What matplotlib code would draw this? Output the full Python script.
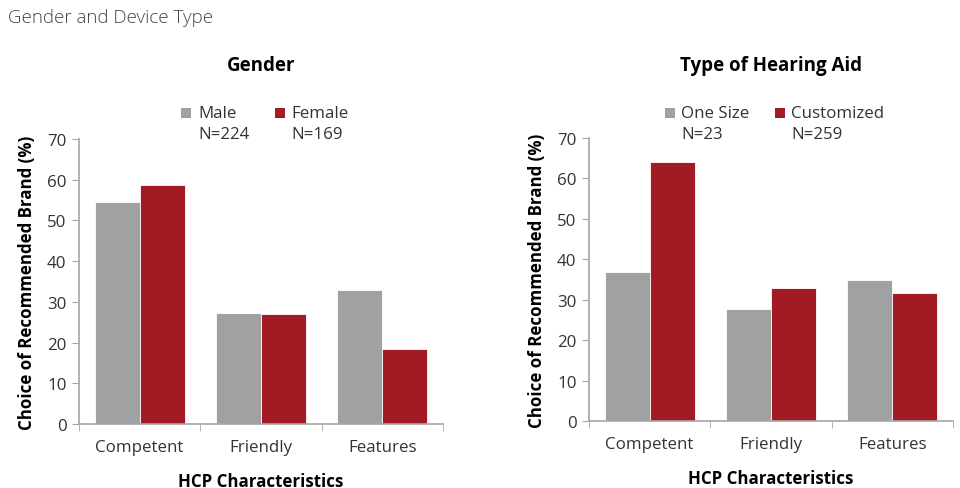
import matplotlib
matplotlib.use("Agg")
import matplotlib.pyplot as plt
import numpy as np
from matplotlib.patches import Rectangle

plt.rcParams['font.family'] = ['Open Sans', 'DejaVu Sans']

categories = ["Competent", "Friendly", "Features"]
gender_labels = ["Male", "Female"]
gender_n = ["N=224", "N=169"]
male = [54.5, 27.3, 32.8]
female = [58.8, 26.9, 18.4]
device_labels = ["One Size", "Customized"]
device_n = ["N=23", "N=259"]
one_size = [36.8, 27.8, 35.0]
customized = [64.1, 33.0, 31.7]
yticks = [0, 10, 20, 30, 40, 50, 60, 70]

GRAY = "#a0a1a3"
RED = "#a21a23"
AX = "#a6a6a6"
TXT = "#333333"
W, H = 960, 489

fig = plt.figure(figsize=(9.6, 4.89), dpi=100)
fig.text(8/W, 1-18/H, "Gender and Device Type", fontsize=13.5, color="#444444",
         va="center", ha="left", fontweight="light")

def panel(rect, title, s1, s2, labels, ns, leg_x):
    ax = fig.add_axes(rect)
    x = np.arange(len(categories))
    w = 0.37
    ax.bar(x - w/2, s1, w, color=GRAY, edgecolor="white", linewidth=0.6)
    ax.bar(x + w/2, s2, w, color=RED, edgecolor="white", linewidth=0.6)
    ax.set_xlim(-0.5, 2.5)
    ax.set_ylim(0, 70)
    ax.set_yticks(yticks)
    ax.set_xticks(x)
    ax.set_xticklabels(categories)
    ax.set_xticks([-0.5, 0.5, 1.5, 2.5], minor=True)
    ax.tick_params(axis='x', which='major', length=0, pad=11, labelsize=12.2, colors=TXT)
    ax.tick_params(axis='x', which='minor', length=5, direction='out', color=AX)
    ax.tick_params(axis='y', length=5, color=AX, labelsize=12.2, labelcolor=TXT, pad=4)
    for s in ['top', 'right']:
        ax.spines[s].set_visible(False)
    for s in ['left', 'bottom']:
        ax.spines[s].set_color(AX)
        ax.spines[s].set_linewidth(1.2)
    ax.set_xlabel("HCP Characteristics", fontsize=12.2, fontweight="bold", color="black", labelpad=12)
    ax.set_ylabel("Choice of Recommended Brand (%)", fontsize=12.2, fontweight="bold", color="black", labelpad=8)
    # legend drawn manually
    for (sx, tx), lab, n, col in zip(leg_x, labels, ns, [GRAY, RED]):
        fig.patches.append(Rectangle((sx/W, 1-119/H), 10/W, 10/H, transform=fig.transFigure,
                                     facecolor=col, edgecolor="none"))
        fig.text(tx/W, 1-114/H, lab, fontsize=12.2, color=TXT, va="center", ha="left")
        fig.text(tx/W, 1-135/H, n, fontsize=12.2, color=TXT, va="center", ha="left")
    fig.text(rect[0] + rect[2]/2, 1-66/H, title, ha="center", va="center",
             fontsize=13.5, fontweight="bold")
    return ax

panel([79/W, 1-425/H, 364/W, 285/H], "Gender", male, female, gender_labels, gender_n,
      [(181, 198), (275, 291)])
panel([589/W, 1-422/H, 364/W, 283/H], "Type of Hearing Aid", one_size, customized, device_labels, device_n,
      [(665, 681), (775, 791)])

fig.savefig("out.png", dpi=100)
